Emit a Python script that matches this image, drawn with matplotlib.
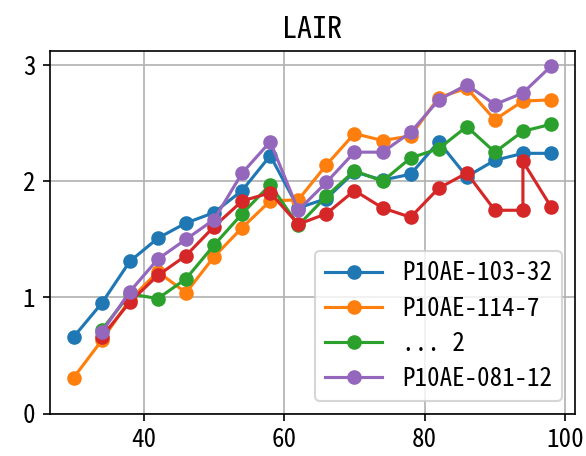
import numpy as np
from matplotlib import pyplot as plt

plt.rcParams['font.family'] = ['Noto Sans Mono CJK JP', 'Noto Sans CJK JP', 'DejaVu Sans']
plt.rcParams['font.size'] = 12

title = "LAIR"

x_blue = [30, 34, 38, 42, 46, 50, 54, 58, 62, 66, 70, 74, 78, 82, 86, 90, 94, 98]
y_blue = [0.66, 0.95, 1.31, 1.51, 1.64, 1.73, 1.92, 2.22, 1.77, 1.85, 2.08, 2.01, 2.06, 2.34, 2.04, 2.18, 2.24, 2.24]

x_orange = [30, 34, 38, 42, 46, 50, 54, 58, 62, 66, 70, 74, 78, 82, 86, 90, 94, 98]
y_orange = [0.31, 0.63, 0.98, 1.22, 1.04, 1.35, 1.60, 1.83, 1.84, 2.14, 2.41, 2.35, 2.39, 2.72, 2.80, 2.53, 2.69, 2.70]

x_green = [34, 38, 42, 46, 50, 54, 58, 62, 66, 70, 74, 78, 82, 86, 90, 94, 98]
y_green = [0.72, 1.03, 0.99, 1.16, 1.45, 1.72, 1.97, 1.62, 1.87, 2.09, 2.00, 2.20, 2.28, 2.47, 2.25, 2.43, 2.49]

x_red = [34, 38, 42, 46, 50, 54, 58, 62, 66, 70, 74, 78, 82, 86, 90, 94, 94, 98]
y_red = [0.66, 0.96, 1.19, 1.36, 1.61, 1.83, 1.90, 1.63, 1.72, 1.92, 1.77, 1.69, 1.94, 2.07, 1.75, 1.75, 2.17, 1.78]

x_purple = [34, 38, 42, 46, 50, 54, 58, 62, 66, 70, 74, 78, 82, 86, 90, 94, 98]
y_purple = [0.70, 1.05, 1.33, 1.50, 1.67, 2.07, 2.34, 1.75, 1.99, 2.25, 2.25, 2.42, 2.70, 2.83, 2.66, 2.76, 2.99]

labels = ["P10AE-103-32", "P10AE-114-7", "... 2", "_red", "P10AE-081-12"]

fig, ax = plt.subplots(figsize=(586 / 150, 456 / 150), dpi=150)
ax.plot(x_blue, y_blue, 'o-', label=labels[0])
ax.plot(x_orange, y_orange, 'o-', label=labels[1])
ax.plot(x_green, y_green, 'o-', label=labels[2])
ax.plot(x_red, y_red, 'o-', label=labels[3])
ax.plot(x_purple, y_purple, 'o-', label=labels[4])
ax.set_ylim(bottom=0)
ax.set_xticks([40, 60, 80, 100])
ax.set_yticks([0, 1, 2, 3])
ax.grid(True)
ax.legend(loc='lower right', handlelength=2.3, labelspacing=0.45)
ax.set_title(title)
fig.subplots_adjust(left=0.085, right=0.981, bottom=0.093, top=0.889)
fig.savefig('out.png', dpi=150)
